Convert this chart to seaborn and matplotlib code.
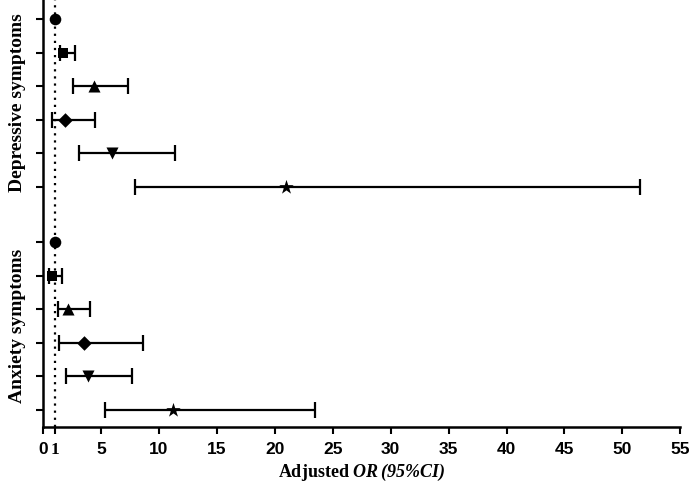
import numpy as np
import pandas as pd
import seaborn as sns
import matplotlib.pyplot as plt

# adjusted odds ratios (first level is the reference)
groups = ["Depressive symptoms", "Anxiety symptoms"]
levels = ["L1", "L2", "L3", "L4", "L5", "L6"]
dep_or = [1.0, 1.75, 4.4, 1.92, 5.92, 21.0]
dep_lo = [np.nan, 1.47, 2.59, 0.78, 3.08, 7.98]
dep_hi = [np.nan, 2.78, 7.30, 4.50, 11.38, 51.5]
anx_or = [1.0, 0.80, 2.20, 3.56, 3.88, 11.26]
anx_lo = [np.nan, 0.54, 1.29, 1.41, 2.00, 5.34]
anx_hi = [np.nan, 1.64, 4.05, 8.60, 7.65, 23.45]
xticks = [0, 1, 5, 10, 15, 20, 25, 30, 35, 40, 45, 50, 55]

df = pd.DataFrame({
    "group": np.repeat(groups, len(levels)),
    "level": levels * 2,
    "OR": dep_or + anx_or,
    "lo": dep_lo + anx_lo,
    "hi": dep_hi + anx_hi,
})
# row positions: 6 rows per group, a wider gap between groups
df["pos"] = np.concatenate([np.arange(6), np.arange(6) + 6.65])

sns.set_style("ticks")
plt.rcParams["text.color"] = "black"
plt.rcParams["xtick.color"] = "black"
plt.rcParams["ytick.color"] = "black"
plt.rcParams["mathtext.fontset"] = "custom"
plt.rcParams["mathtext.bfit"] = "Liberation Serif:bold:italic"
plt.rcParams["mathtext.rm"] = "Liberation Serif:bold"

fig = plt.figure(figsize=(6.89, 4.88), dpi=100)
ax = fig.add_axes([0.0624, 0.125, 0.925, 0.875])

# confidence intervals
ci = df.dropna()
ax.errorbar(ci["OR"], ci["pos"], xerr=[ci["OR"] - ci["lo"], ci["hi"] - ci["OR"]],
            fmt="none", ecolor="black", elinewidth=1.6, capsize=5.5, capthick=1.6, zorder=2)

markers = {"L1": "o", "L2": "s", "L3": "^", "L4": "D", "L5": "v", "L6": "*"}
sizes = {"L1": 70, "L2": 60, "L3": 75, "L4": 55, "L5": 75, "L6": 120}
for lv, sub in df.groupby("level"):
    sns.scatterplot(data=sub, x="OR", y="pos", marker=markers[lv], s=sizes[lv],
                    color="black", edgecolor="black", linewidth=0, ax=ax, zorder=3, legend=False)

ax.axvline(1, color="black", linestyle=(0, (1, 2.2)), linewidth=1.6, zorder=1)

ax.set_xlim(0, 55)
ax.set_ylim(12.16, -0.57)
ax.set_xticks(xticks)
ax.set_xticklabels([str(t) for t in xticks], fontweight="bold", fontsize=12.5,
                   family=["Liberation Sans Narrow", "Liberation Sans"])
for lab in ax.get_xticklabels():
    if lab.get_text() == "1":
        lab.set_family("Liberation Serif")
ax.set_yticks(df["pos"])
ax.set_yticklabels([])
ax.tick_params(axis="both", direction="out", length=5, width=1.5, color="black",
               labelcolor="black")
ax.tick_params(axis="x", pad=6)
ax.set_xlabel("")
ax.set_ylabel("")
sns.despine(ax=ax)
for sp in ["left", "bottom"]:
    ax.spines[sp].set_linewidth(1.8)
    ax.spines[sp].set_color("black")

fig.text(0.5247, 0.031, r"Adjusted $\mathbfit{OR\,(95\%CI)}$", ha="center", va="center",
         fontsize=13, fontweight="bold", family="Liberation Serif", color="black")

for g, sub in df.groupby("group"):
    mid = sub["pos"].mean()
    ax.text(-0.04, mid, g, transform=ax.get_yaxis_transform(), rotation=90,
            ha="center", va="center", fontsize=14, fontweight="bold",
            family="Liberation Serif", color="black")

fig.savefig("out.png", dpi=100)
